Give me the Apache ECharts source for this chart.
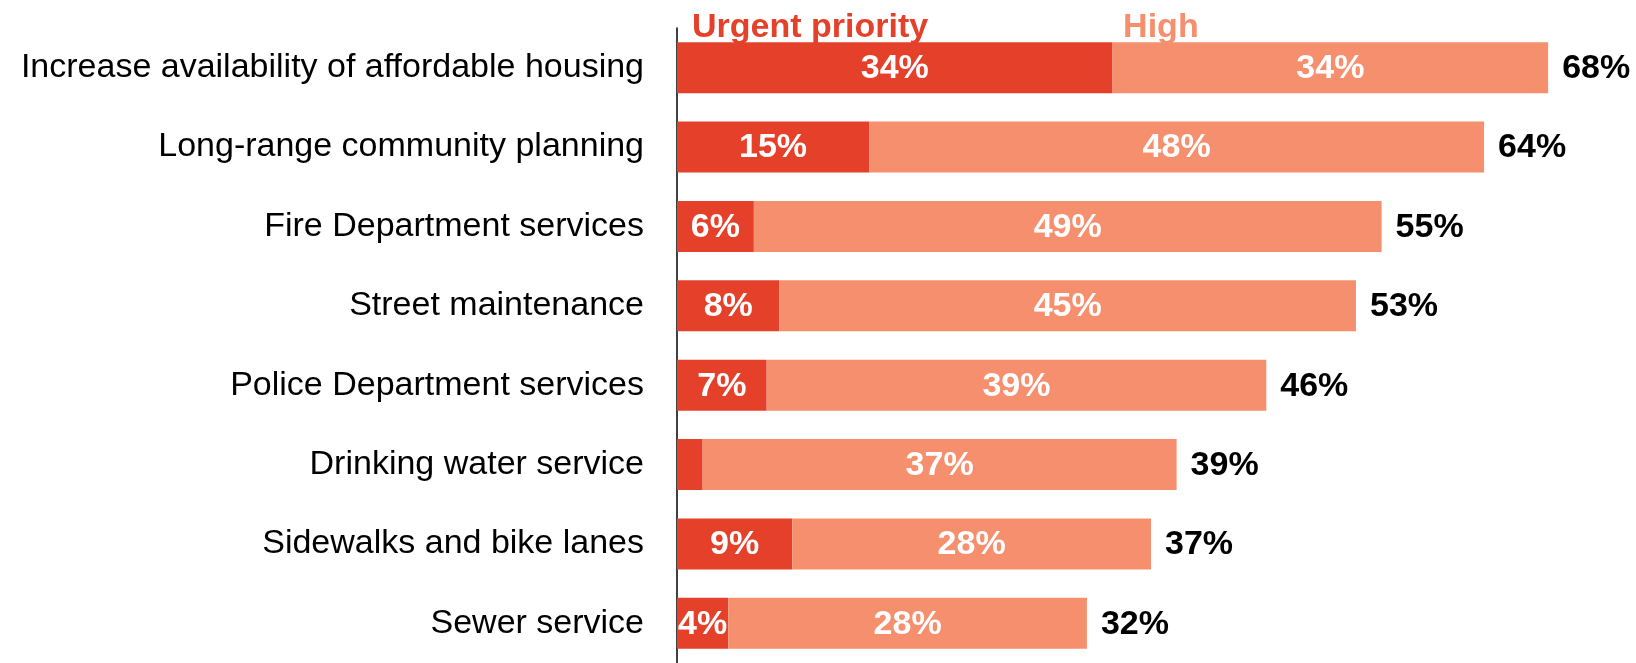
<!DOCTYPE html>
<html>
<head>
<meta charset="utf-8">
<script src="https://cdn.jsdelivr.net/npm/echarts@6/dist/echarts.min.js"></script>
<style>
  html, body { margin: 0; padding: 0; background: #fff; }
  #main { width: 1636px; height: 663px; }
</style>
</head>
<body>
<div id="main"></div>
<script>
const categories = [
  'Increase availability of affordable housing',
  'Long-range community planning',
  'Fire Department services',
  'Street maintenance',
  'Police Department services',
  'Drinking water service',
  'Sidewalks and bike lanes',
  'Sewer service'
]
const urgent = [34, 15, 6, 8, 7, 2, 9, 4]
const high = [34, 48, 49, 45, 39, 37, 28, 28]
const totals = [68, 64, 55, 53, 46, 39, 37, 32]

const RED = '#E5402A'
const SALMON = '#F58F6D'
const FONT = '"Liberation Sans", Arial, sans-serif'

const myChart = echarts.init(document.getElementById('main'))

const valueLabel = {
  show: true,
  position: 'inside',
  color: '#fff',
  fontSize: 34,
  fontWeight: 'bold',
  fontFamily: FONT,
  offset: [0, 1]
}

myChart.setOption({
  animation: false,
  textStyle: { fontFamily: FONT },
  legend: {
    data: ['Urgent priority', 'High'],
    left: 682,
    top: 6,
    z: 10,
    icon: 'none',
    itemWidth: 0,
    itemGap: 190,
    selectedMode: false,
    textStyle: { color: 'inherit', fontSize: 34, fontWeight: 'bold', fontFamily: FONT }
  },
  grid: { left: 677, right: 11, top: 28, height: 637 },
  xAxis: {
    type: 'value',
    min: 0,
    max: 74,
    show: false
  },
  yAxis: {
    type: 'category',
    data: categories,
    inverse: true,
    axisLine: { show: true, lineStyle: { color: '#000', width: 1.5 } },
    axisTick: { show: false },
    axisLabel: { color: '#000', fontSize: 34, margin: 33, fontFamily: FONT, padding: [2, 0, 0, 0] }
  },
  series: [
    {
      name: 'Urgent priority',
      type: 'bar',
      stack: 'total',
      data: urgent,
      barWidth: 51,
      itemStyle: { color: RED },
      label: Object.assign({}, valueLabel, {
        formatter: p => p.value < 3 ? '' : p.value + '%'
      })
    },
    {
      name: 'High',
      type: 'bar',
      stack: 'total',
      data: high,
      barWidth: 51,
      itemStyle: { color: SALMON },
      label: Object.assign({}, valueLabel, {
        formatter: p => p.value + '%'
      })
    },
    {
      name: 'Total',
      type: 'bar',
      stack: 'total',
      data: totals.map(() => 0),
      barWidth: 51,
      itemStyle: { color: 'transparent' },
      label: Object.assign({}, valueLabel, {
        position: 'right',
        distance: 14,
        color: '#000',
        formatter: p => totals[p.dataIndex] + '%'
      })
    }
  ]
})
</script>
</body>
</html>
